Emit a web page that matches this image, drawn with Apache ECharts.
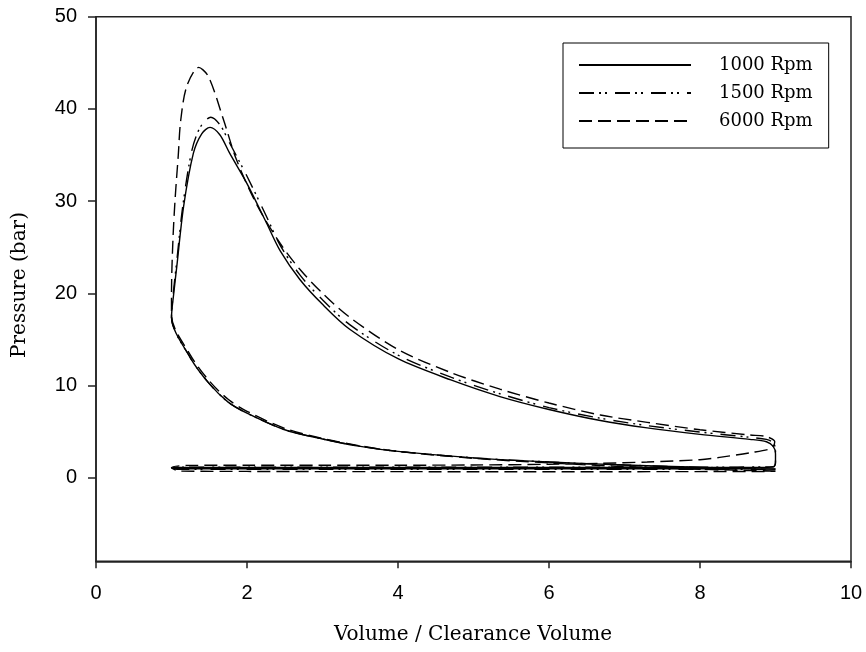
<!DOCTYPE html>
<html>
<head>
<meta charset="utf-8">
<script src="https://cdn.jsdelivr.net/npm/echarts@6/dist/echarts.min.js"></script>
<style>html,body{margin:0;padding:0;background:#fff}#c{width:866px;height:652px}</style>
</head>
<body>
<div id="c"></div>
<script>
// Series names
const seriesNames = ['1000 Rpm', '1500 Rpm', '6000 Rpm'];
// Axis ticks
const xTicks = [0, 2, 4, 6, 8, 10];
const yTicks = [0, 10, 20, 30, 40, 50];
const xTitle = 'Volume / Clearance Volume';
const yTitle = 'Pressure (bar)';

// 1000 Rpm cycle: compression, combustion/expansion, blowdown, exhaust, intake
const v1000 = [9.0, 8.0, 7.0, 6.0, 5.0, 4.0, 3.5, 3.0, 2.5, 2.0, 1.75, 1.5, 1.25, 1.0,
  1.03, 1.07, 1.16, 1.29, 1.40, 1.51, 1.64, 1.77, 2.0, 2.26, 2.44, 2.70, 3.0, 3.36, 4.0, 4.7, 5.35, 6.0, 6.68, 7.3, 8.0, 8.66, 8.88, 8.97, 9.0, 9.0, 8.97,
  8.5, 7.0, 5.0, 3.0, 2.0, 1.1, 1.0,
  1.1, 2.0, 3.0, 5.0, 7.0, 9.0];
const p1000 = [0.95, 1.15, 1.38, 1.7, 2.15, 2.85, 3.4, 4.2, 5.2, 7.0, 8.2, 10.2, 13.0, 17.4,
  20.0, 22.9, 29.4, 35.2, 37.3, 38.0, 37.2, 35.2, 31.9, 27.6, 24.6, 21.5, 18.8, 16.1, 12.9, 10.6, 8.8, 7.4, 6.2, 5.4, 4.7, 4.16, 3.9, 3.4, 2.6, 1.6, 1.15,
  1.1, 1.1, 1.1, 1.1, 1.1, 1.1, 1.05,
  0.95, 0.95, 0.95, 0.95, 0.95, 0.95];

// 1500 Rpm cycle
const v1500 = [9.0, 8.0, 7.0, 6.0, 5.0, 4.0, 3.5, 3.0, 2.5, 2.0, 1.75, 1.5, 1.25, 1.0,
  1.03, 1.07, 1.15, 1.27, 1.38, 1.52, 1.64, 1.77, 2.0, 2.26, 2.44, 2.70, 3.0, 3.36, 4.0, 4.7, 5.35, 6.0, 6.68, 7.3, 8.0, 8.66, 8.88, 8.97, 9.0, 9.0, 8.97,
  8.5, 7.0, 5.0, 3.0, 2.0, 1.1, 1.0,
  1.1, 2.0, 3.0, 5.0, 7.0, 9.0];
const p1500 = [0.92, 1.13, 1.37, 1.7, 2.15, 2.85, 3.4, 4.2, 5.2, 7.0, 8.2, 10.2, 13.0, 17.4,
  20.5, 23.5, 29.5, 35.5, 38.0, 39.1, 38.3, 36.3, 32.7, 28.3, 25.2, 22.0, 19.3, 16.6, 13.3, 10.9, 9.1, 7.6, 6.45, 5.65, 4.95, 4.38, 4.15, 3.8, 3.0, 1.8, 1.2,
  1.15, 1.15, 1.15, 1.15, 1.15, 1.15, 1.05,
  0.9, 0.9, 0.9, 0.9, 0.9, 0.9];

// 6000 Rpm cycle
const v6000 = [9.0, 8.0, 7.0, 6.0, 5.0, 4.0, 3.5, 3.0, 2.5, 2.0, 1.75, 1.5, 1.25, 1.0,
  1.0, 1.02, 1.05, 1.09, 1.12, 1.2, 1.36, 1.49, 1.69, 1.86, 2.13, 2.44, 2.70, 3.0, 3.36, 4.0, 4.7, 5.35, 6.0, 6.68, 7.3, 8.0, 8.66, 8.88, 8.99, 8.95,
  8.66, 8.26, 8.0, 7.3, 6.68, 6.0, 5.0, 4.0, 3.0, 2.0, 1.2, 1.0,
  1.1, 2.0, 3.0, 5.0, 7.0, 9.0];
const p6000 = [0.72, 0.92, 1.2, 1.6, 2.1, 2.85, 3.45, 4.25, 5.35, 7.2, 8.5, 10.5, 13.3, 17.6,
  20.0, 26.0, 30.5, 35.0, 38.6, 42.4, 44.5, 43.5, 38.8, 34.5, 29.6, 25.4, 22.6, 20.0, 17.4, 13.9, 11.4, 9.6, 8.1, 6.8, 6.0, 5.2, 4.63, 4.45, 3.9, 3.2,
  2.7, 2.2, 1.95, 1.7, 1.55, 1.45, 1.38, 1.35, 1.35, 1.35, 1.33, 1.1,
  0.72, 0.68, 0.66, 0.65, 0.65, 0.68];

const volumes = [v1000, v1500, v6000];
const pressures = [p1000, p1500, p6000];
const dashes = ['solid', [15, 5, 2, 4, 2, 8], [13, 6]];

const serif = 'DejaVu Serif';
const sans = 'Liberation Sans';

const chart = echarts.init(document.getElementById('c'), null, {renderer: 'canvas'});
chart.setOption({
  animation: false,
  backgroundColor: '#fff',
  grid: {left: 96, top: 16.7, width: 755, height: 544.6, show: true, borderColor: '#222', borderWidth: 1.5, backgroundColor: 'transparent'},
  xAxis: {
    type: 'value', min: xTicks[0], max: xTicks[xTicks.length - 1], interval: 2,
    axisLine: {show: true, onZero: false, lineStyle: {color: '#222', width: 1.5}},
    axisTick: {show: true, inside: false, length: 7, lineStyle: {color: '#222', width: 1.5}},
    axisLabel: {show: true, margin: 22, color: '#000', fontFamily: sans, fontSize: 20},
    splitLine: {show: false}
  },
  yAxis: {
    type: 'value', min: -9.07, max: 50,
    axisLine: {show: true, onZero: false, lineStyle: {color: '#222', width: 1.5}},
    axisTick: {show: true, inside: false, length: 8, customValues: yTicks, lineStyle: {color: '#222', width: 1.5}},
    axisLabel: {show: true, margin: 19, color: '#000', fontFamily: sans, fontSize: 20, customValues: yTicks},
    splitLine: {show: false}
  },
  legend: {
    show: true, orient: 'vertical', left: 563, top: 43,
    padding: [12, 16, 17, 15],
    borderColor: '#000', borderWidth: 1,
    itemWidth: 112, itemHeight: 14, itemGap: 8,
    itemStyle: {opacity: 0},
    data: seriesNames,
    textStyle: {fontFamily: serif, fontSize: 18, color: '#000', lineHeight: 20, padding: [0, 0, 0, 23]}
  },
  graphic: [
    {type: 'text', x: 473, y: 635, style: {text: xTitle, fontFamily: serif, fontSize: 20, fill: '#000', textAlign: 'center', textVerticalAlign: 'middle'}},
    {type: 'text', rotation: Math.PI / 2, x: 20, y: 285, style: {text: yTitle, fontFamily: serif, fontSize: 20, fill: '#000', textAlign: 'center', textVerticalAlign: 'middle'}}
  ],
  series: seriesNames.map((name, i) => ({
    name: name,
    type: 'line',
    data: volumes[i].map((v, k) => [v, pressures[i][k]]),
    showSymbol: false,
    symbol: 'none',
    smooth: 0.3,
    smoothMonotone: null,
    lineStyle: {color: '#000', width: 1.4, type: dashes[i]},
    itemStyle: {color: '#000'},
    z: 3 - i
  }))
});
</script>
</body>
</html>
